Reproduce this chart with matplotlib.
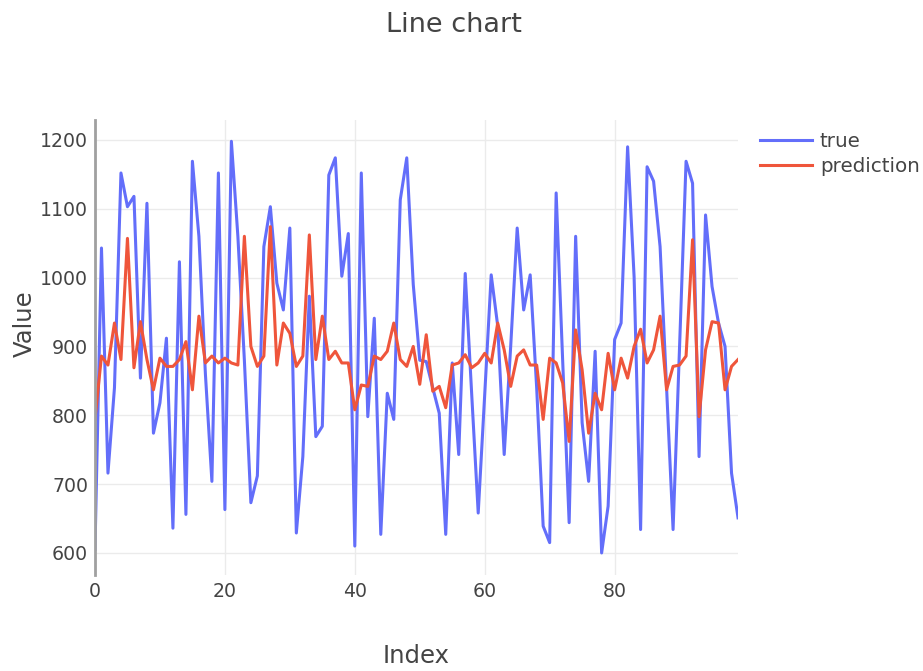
import matplotlib.pyplot as plt

# values
index = list(range(100))
true_vals = [605, 1043, 716, 840, 1152, 1103, 1118, 854, 1108, 774,
             818, 912, 636, 1023, 656, 1169, 1060, 860, 704, 1152,
             663, 1198, 1060, 880, 673, 712, 1045, 1103, 992, 953,
             1072, 629, 740, 973, 769, 784, 1149, 1174, 1002, 1064,
             610, 1152, 798, 941, 627, 832, 794, 1113, 1174, 990,
             880, 878, 840, 803, 627, 876, 743, 1006, 830, 658,
             830, 1004, 930, 743, 900, 1072, 953, 1004, 840, 639,
             615, 1123, 880, 644, 1060, 789, 704, 893, 600, 668,
             910, 934, 1190, 1001, 634, 1161, 1140, 1045, 840, 634,
             900, 1169, 1137, 740, 1091, 987, 934, 900, 716, 651]
pred_vals = [794, 886, 873, 934, 881, 1057, 869, 936, 881, 837,
             883, 871, 871, 881, 907, 837, 944, 876, 886, 876,
             883, 876, 873, 1060, 900, 871, 886, 1074, 873, 934,
             919, 871, 886, 1062, 881, 944, 881, 893, 876, 876,
             808, 844, 842, 886, 881, 893, 934, 881, 871, 900,
             845, 917, 835, 842, 811, 873, 876, 888, 869, 876,
             890, 876, 934, 895, 842, 886, 895, 873, 873, 794,
             883, 876, 847, 762, 924, 866, 774, 832, 808, 890,
             837, 883, 854, 900, 925, 876, 895, 944, 837, 871,
             873, 886, 1055, 798, 895, 936, 934, 837, 871, 881]
y_ticks = [600, 700, 800, 900, 1000, 1100, 1200]
x_ticks = [0, 20, 40, 60, 80]

plt.rcParams['font.family'] = ['DejaVu Sans']
txt = '#444444'

fig = plt.figure(figsize=(9.23, 6.71), dpi=100)
ax = fig.add_axes([0.1029, 0.1431, 0.6967, 0.6781])

ax.plot(index, true_vals, color='#636efa', lw=2.2, label='true')
ax.plot(index, pred_vals, color='#ef553b', lw=2.2, label='prediction')

ax.set_xlim(0, 99)
ax.set_ylim(568, 1229)
ax.set_xticks(x_ticks)
ax.set_yticks(y_ticks)
ax.grid(True, color='#ebebeb', lw=1)
ax.set_axisbelow(True)
ax.tick_params(length=0, labelsize=13.6, colors=txt, pad=5)

for s in ['top', 'right', 'bottom']:
    ax.spines[s].set_visible(False)
ax.spines['left'].set_color('#a0a0a0')
ax.spines['left'].set_linewidth(2)

fig.text(0.492, 0.962, 'Line chart', ha='center', va='center', fontsize=19.5, color=txt)
fig.text(0.027, 0.518, 'Value', rotation=90, ha='center', va='center', fontsize=17.5, color=txt)
fig.text(0.451, 0.023, 'Index', ha='center', va='center', fontsize=17.5, color=txt)

fig.legend(loc='upper left', bbox_to_anchor=(0.815, 0.815), frameon=False,
           fontsize=14.3, handlelength=2.6, labelcolor=txt, borderaxespad=0,
           handletextpad=0.4, labelspacing=0.3)

fig.savefig('out.png', dpi=100)
